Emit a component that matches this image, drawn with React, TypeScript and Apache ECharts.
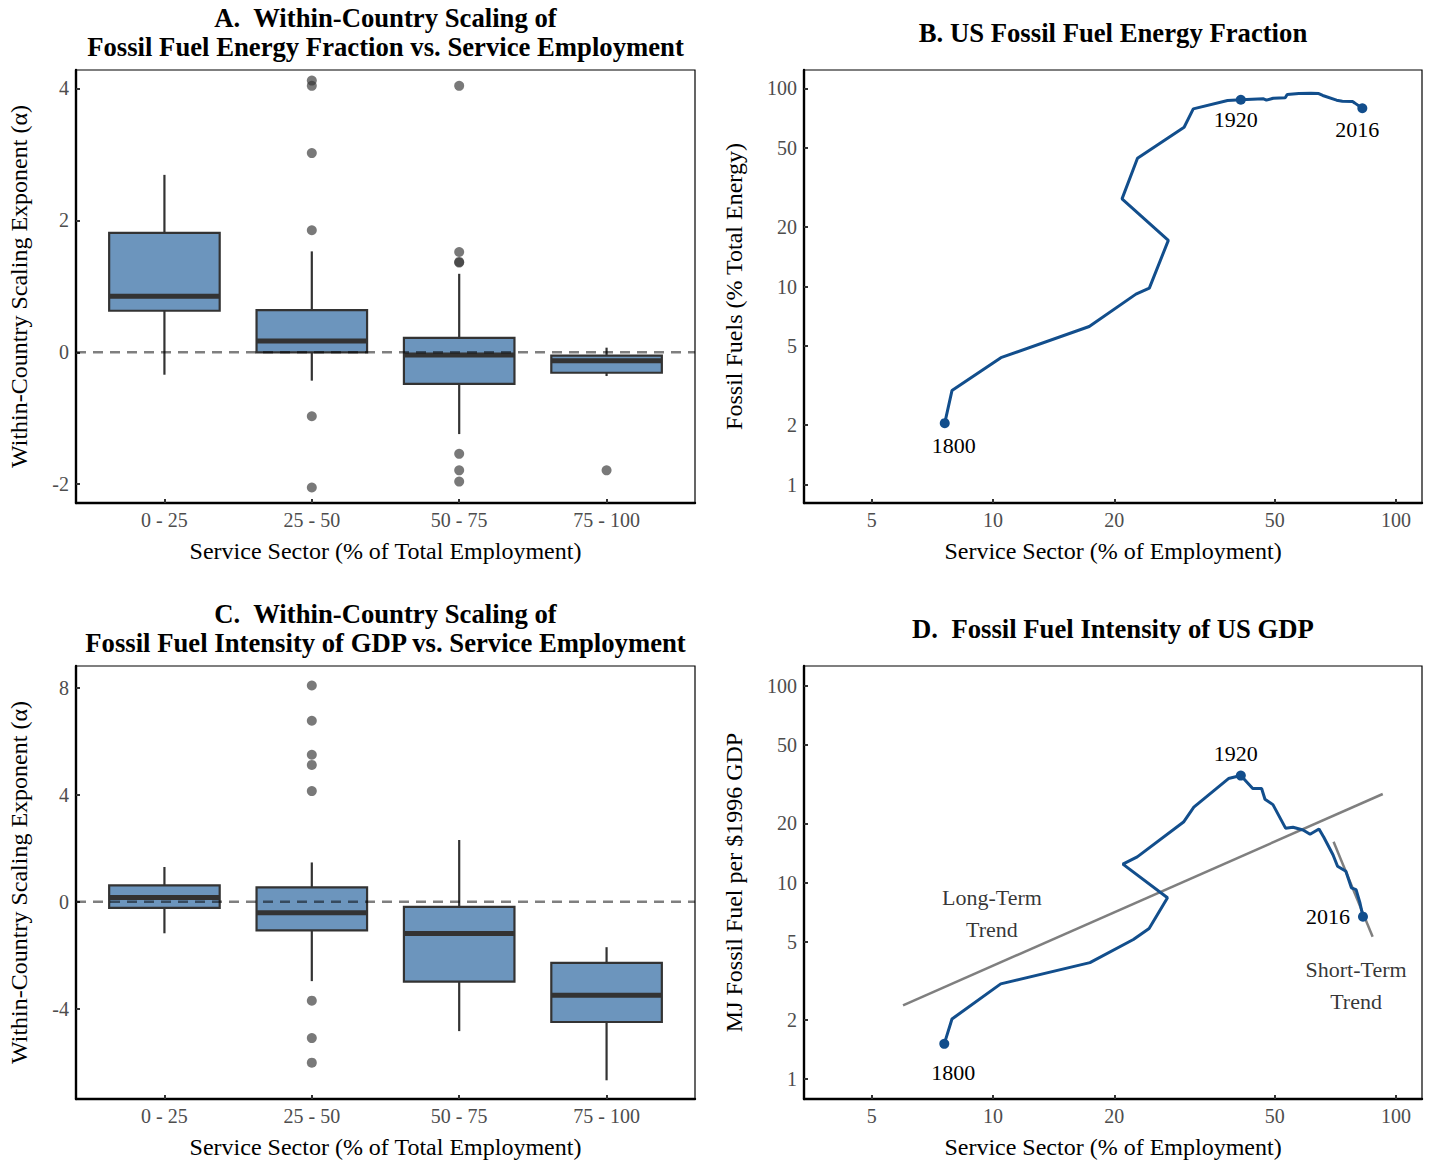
import React, { useEffect, useRef } from "react";
import * as echarts from "echarts";

// ---------- Data ----------
const categories = ["0 - 25", "25 - 50", "50 - 75", "75 - 100"];

// Box statistics per category: [lower whisker, Q1, median, Q3, upper whisker]
const boxStatsA = [
  [-0.34, 0.63, 0.85, 1.81, 2.69],
  [-0.43, 0.0, 0.17, 0.64, 1.53],
  [-1.24, -0.48, -0.04, 0.22, 1.19],
  [-0.36, -0.31, -0.13, -0.05, 0.07],
];
const outliersA = [
  [],
  [4.12, 4.04, 3.02, 1.85, -0.97, -2.05],
  [4.04, 1.52, 1.37, 1.36, -1.54, -1.79, -1.96],
  [-1.79],
];

const boxStatsC = [
  [-1.18, -0.23, 0.16, 0.61, 1.3],
  [-2.97, -1.07, -0.41, 0.54, 1.47],
  [-4.84, -2.99, -1.19, -0.19, 2.31],
  [-6.68, -4.5, -3.5, -2.29, -1.7],
];
const outliersC = [
  [],
  [8.09, 6.77, 5.5, 5.12, 4.14, -3.7, -5.1, -6.02],
  [],
  [],
];

const boxTicksA = [-2, 0, 2, 4];
const boxTicksC = [-4, 0, 4, 8];

// Panel B: US service employment (%) vs fossil share of energy (%)
const serviceB = [7.59, 7.91, 10.46, 17.33, 22.63, 24.43, 27.23, 20.9, 22.83, 29.8, 31.4, 38.2, 41.2, 46.9, 47.7, 49.6, 53.1, 53.7, 57.4, 61.5, 64.3, 65.8, 71.2, 73.6, 78.0, 78.9, 82.5];
const fossilShareB = [2.04, 2.98, 4.37, 6.28, 9.15, 9.81, 17.1, 27.7, 44.4, 63.7, 78.9, 86.9, 87.7, 88.7, 87.3, 89.3, 89.7, 93.2, 94.3, 94.7, 94.3, 92.2, 87.3, 86.3, 85.9, 84.6, 79.5];
const markerIdxB = [0, 12, 26];

// Panel D: US service employment (%) vs MJ fossil fuel per $1996 GDP
const serviceD = [7.57, 7.91, 10.45, 17.4, 22.3, 24.4, 27.1, 21.0, 22.8, 29.7, 31.5, 38.4, 41.2, 44.1, 46.4, 47.3, 49.5, 53.2, 55.5, 58.8, 61.2, 64.4, 66.2, 69.8, 71.6, 75.1, 77.5, 79.6, 81.3, 82.8];
const intensityD = [1.51, 2.02, 3.05, 3.91, 5.13, 5.83, 8.36, 12.4, 13.5, 20.3, 24.2, 33.8, 35.0, 30.1, 30.1, 26.5, 24.9, 18.9, 19.1, 18.5, 17.6, 18.7, 17.0, 13.8, 12.1, 11.4, 9.4, 9.2, 7.94, 6.7];
const markerIdxD = [0, 12, 29];

const yearLabels = ["1800", "1920", "2016"];

const longTrendX = [5.98, 92.7];
const longTrendY = [2.37, 28.2];
const shortTrendX = [70.0, 87.5];
const shortTrendY = [16.1, 5.3];

const logTicksX = [5, 10, 20, 50, 100];
const logTicksY = [1, 2, 5, 10, 20, 50, 100];

// ---------- Styling ----------
const FONT = "'Liberation Serif', 'Times New Roman', serif";
const BOX_FILL = "#6c95bd";
const BOX_STROKE = "#333333";
const BLUE = "#124e8c";

const L = Math.log10;

function boxRenderItem(params: any, api: any) {
  const x = api.value(0);
  const lo = api.value(1);
  const q1 = api.value(2);
  const med = api.value(3);
  const q3 = api.value(4);
  const hi = api.value(5);
  const hw = 0.375;
  const pHi = api.coord([x, hi]);
  const pQ3 = api.coord([x, q3]);
  const pQ1 = api.coord([x, q1]);
  const pLo = api.coord([x, lo]);
  const pL = api.coord([x - hw, q3]);
  const pR = api.coord([x + hw, q1]);
  const pMedL = api.coord([x - hw, med]);
  const pMedR = api.coord([x + hw, med]);
  return {
    type: "group",
    children: [
      { type: "line", shape: { x1: pHi[0], y1: pHi[1], x2: pQ3[0], y2: pQ3[1] }, style: { stroke: BOX_STROKE, lineWidth: 2.2 } },
      { type: "line", shape: { x1: pQ1[0], y1: pQ1[1], x2: pLo[0], y2: pLo[1] }, style: { stroke: BOX_STROKE, lineWidth: 2.2 } },
      {
        type: "rect",
        shape: { x: pL[0], y: pL[1], width: pR[0] - pL[0], height: pR[1] - pL[1] },
        style: { fill: BOX_FILL, stroke: BOX_STROKE, lineWidth: 2.2 },
      },
      { type: "line", shape: { x1: pMedL[0], y1: pMedL[1], x2: pMedR[0], y2: pMedR[1] }, style: { stroke: BOX_STROKE, lineWidth: 5 } },
    ],
  };
}

const tickLabelStyle = { fontFamily: FONT, fontSize: 20, color: "#4d4d4d" };
const axisNameStyle = { fontFamily: FONT, fontSize: 24, color: "#000" };
const axisLineStyle = { show: true, onZero: false, lineStyle: { color: "#000", width: 2.4 } };
const axisTickStyle = (vals: number[]) => ({
  show: true,
  inside: true,
  length: 4,
  customValues: vals,
  lineStyle: { color: "#333", width: 2 },
});

function boxXAxis(gridIndex: number) {
  return {
    type: "value",
    gridIndex,
    min: 0.4,
    max: 4.6,
    name: "Service Sector (% of Total Employment)",
    nameLocation: "middle",
    nameGap: 36,
    nameTextStyle: axisNameStyle,
    axisLine: axisLineStyle,
    axisTick: axisTickStyle([1, 2, 3, 4]),
    axisLabel: {
      ...tickLabelStyle,
      margin: 7,
      customValues: [1, 2, 3, 4],
      formatter: (v: number) => categories[Math.round(v) - 1] ?? "",
    },
    splitLine: { show: false },
  };
}

function boxYAxis(gridIndex: number, min: number, max: number, ticks: number[]) {
  return {
    type: "value",
    gridIndex,
    min,
    max,
    name: "Within-Country Scaling Exponent (α)",
    nameLocation: "middle",
    nameGap: 45,
    nameTextStyle: axisNameStyle,
    axisLine: axisLineStyle,
    axisTick: axisTickStyle(ticks),
    axisLabel: { ...tickLabelStyle, margin: 7, customValues: ticks, formatter: (v: number) => String(Math.round(v)) },
    splitLine: { show: false },
  };
}

function logXAxis(gridIndex: number) {
  const vals = logTicksX.map(L);
  return {
    type: "value",
    gridIndex,
    min: 0.531,
    max: 2.0645,
    name: "Service Sector (% of Employment)",
    nameLocation: "middle",
    nameGap: 36,
    nameTextStyle: axisNameStyle,
    axisLine: axisLineStyle,
    axisTick: axisTickStyle(vals),
    axisLabel: { ...tickLabelStyle, margin: 7, customValues: vals, formatter: (v: number) => String(Math.round(Math.pow(10, v))) },
    splitLine: { show: false },
  };
}

function logYAxis(gridIndex: number, name: string, min: number, max: number) {
  const vals = logTicksY.map(L);
  return {
    type: "value",
    gridIndex,
    min,
    max,
    name,
    nameLocation: "middle",
    nameGap: 58,
    nameTextStyle: axisNameStyle,
    axisLine: axisLineStyle,
    axisTick: axisTickStyle(vals),
    axisLabel: { ...tickLabelStyle, margin: 7, customValues: vals, formatter: (v: number) => String(Math.round(Math.pow(10, v))) },
    splitLine: { show: false },
  };
}

function boxSeries(idx: number, stats: number[][], outliers: number[][]) {
  return [
    {
      type: "custom",
      xAxisIndex: idx,
      yAxisIndex: idx,
      renderItem: boxRenderItem,
      encode: { x: 0, y: [1, 2, 3, 4, 5] },
      data: stats.map((s, i) => [i + 1, ...s]),
      z: 2,
    },
    {
      type: "line",
      xAxisIndex: idx,
      yAxisIndex: idx,
      data: [
        [0.4, 0],
        [4.6, 0],
      ],
      showSymbol: false,
      symbol: "none",
      lineStyle: { color: "rgba(0,0,0,0.5)", width: 2.5, type: [10, 7] },
      z: 3,
      silent: true,
    },
    {
      type: "scatter",
      xAxisIndex: idx,
      yAxisIndex: idx,
      symbolSize: 10,
      itemStyle: { color: "rgba(51,51,51,0.66)", opacity: 1 },
      data: outliers.flatMap((arr, i) => arr.map((v) => [i + 1, v])),
      z: 4,
    },
  ];
}

const yearLabelStyle = { fontFamily: FONT, fontSize: 22, color: "#000" };

function markerSeries(idx: number, xs: number[], ys: number[], markerIdx: number[], labelCfg: any[]) {
  return {
    type: "scatter",
    xAxisIndex: idx,
    yAxisIndex: idx,
    symbolSize: 10,
    itemStyle: { color: BLUE, opacity: 1 },
    z: 6,
    data: markerIdx.map((k, j) => ({
      value: [L(xs[k]), L(ys[k])],
      label: { show: true, formatter: yearLabels[j], ...yearLabelStyle, ...labelCfg[j] },
    })),
  };
}

function buildOption() {
  const titleBase = { fontFamily: FONT, fontSize: 26.7, fontWeight: "bold", color: "#000", lineHeight: 29 };
  return {
    animation: false,
    backgroundColor: "#fff",
    title: [
      { text: "A.  Within-Country Scaling of\nFossil Fuel Energy Fraction vs. Service Employment", left: 385.5, top: 3, textAlign: "center", textStyle: titleBase, padding: 0 },
      { text: "B. US Fossil Fuel Energy Fraction", left: 1113, top: 18, textAlign: "center", textStyle: titleBase, padding: 0 },
      { text: "C.  Within-Country Scaling of\nFossil Fuel Intensity of GDP vs. Service Employment", left: 385.5, top: 599, textAlign: "center", textStyle: titleBase, padding: 0 },
      { text: "D.  Fossil Fuel Intensity of US GDP", left: 1113, top: 614, textAlign: "center", textStyle: titleBase, padding: 0 },
    ],
    grid: [
      { left: 76, top: 70, width: 619, height: 433, show: true, borderColor: "#000", borderWidth: 1.2, containLabel: false },
      { left: 804, top: 70, width: 618, height: 433, show: true, borderColor: "#000", borderWidth: 1.2, containLabel: false },
      { left: 76, top: 666, width: 619, height: 434, show: true, borderColor: "#000", borderWidth: 1.2, containLabel: false },
      { left: 804, top: 666, width: 618, height: 434, show: true, borderColor: "#000", borderWidth: 1.2, containLabel: false },
    ],
    xAxis: [boxXAxis(0), logXAxis(1), boxXAxis(2), logXAxis(3)],
    yAxis: [
      boxYAxis(0, -2.285, 4.28, boxTicksA),
      logYAxis(1, "Fossil Fuels (% Total Energy)", -0.0934, 2.0934),
      boxYAxis(2, -7.38, 8.82, boxTicksC),
      logYAxis(3, "MJ Fossil Fuel per $1996 GDP", -0.1015, 2.1015),
    ],
    series: [
      ...boxSeries(0, boxStatsA, outliersA),
      ...boxSeries(2, boxStatsC, outliersC),
      {
        type: "line",
        xAxisIndex: 1,
        yAxisIndex: 1,
        data: serviceB.map((x, i) => [L(x), L(fossilShareB[i])]),
        showSymbol: false,
        symbol: "none",
        lineStyle: { color: BLUE, width: 3 },
        z: 5,
      },
      markerSeries(1, serviceB, fossilShareB, markerIdxB, [
        { position: "bottom", distance: 6, offset: [9, 0] },
        { position: "bottom", distance: 4, offset: [-5, 0] },
        { position: "bottom", distance: 5, offset: [-5, 0] },
      ]),
      {
        type: "line",
        xAxisIndex: 3,
        yAxisIndex: 3,
        data: longTrendX.map((x, i) => [L(x), L(longTrendY[i])]),
        showSymbol: false,
        symbol: "none",
        lineStyle: { color: "#7f7f7f", width: 2.5 },
        z: 4,
      },
      {
        type: "line",
        xAxisIndex: 3,
        yAxisIndex: 3,
        data: shortTrendX.map((x, i) => [L(x), L(shortTrendY[i])]),
        showSymbol: false,
        symbol: "none",
        lineStyle: { color: "#7f7f7f", width: 2.5 },
        z: 4,
      },
      {
        type: "line",
        xAxisIndex: 3,
        yAxisIndex: 3,
        data: serviceD.map((x, i) => [L(x), L(intensityD[i])]),
        showSymbol: false,
        symbol: "none",
        lineStyle: { color: BLUE, width: 3 },
        z: 5,
      },
      markerSeries(3, serviceD, intensityD, markerIdxD, [
        { position: "bottom", distance: 13, offset: [9, 0] },
        { position: "top", distance: 6, offset: [-5, 0] },
        { position: "left", distance: 8, offset: [0, 0] },
      ]),
      {
        type: "scatter",
        xAxisIndex: 3,
        yAxisIndex: 3,
        symbolSize: 1,
        itemStyle: { color: "rgba(0,0,0,0)" },
        z: 6,
        data: [
          { value: [L(9.94), L(6.96)], label: { show: true, position: "inside", formatter: "Long-Term\nTrend", ...yearLabelStyle, lineHeight: 32 } },
          { value: [L(79.6), L(3.0)], label: { show: true, position: "inside", formatter: "Short-Term\nTrend", ...yearLabelStyle, lineHeight: 32 } },
        ],
      },
    ],
  };
}

export default function App() {
  const ref = useRef<HTMLDivElement>(null);
  useEffect(() => {
    if (!ref.current) return;
    const chart = echarts.init(ref.current, undefined, { renderer: "svg" });
    chart.setOption(buildOption() as any);
    return () => chart.dispose();
  }, []);
  return (
    <div
      ref={ref}
      style={{ position: "absolute", left: 0, top: 0, width: 1430, height: 1160, background: "#fff" }}
    />
  );
}
